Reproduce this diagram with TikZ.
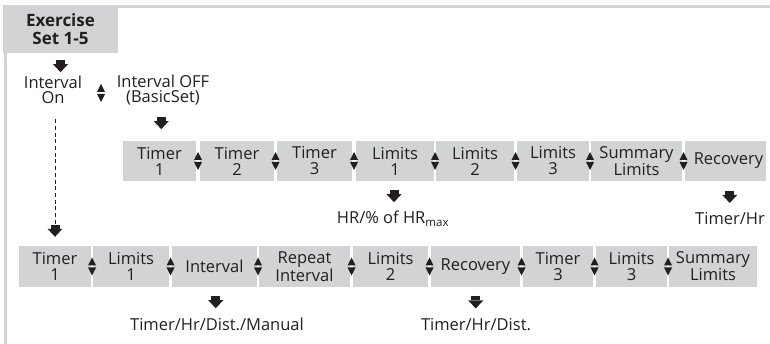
\documentclass[tikz,border=0pt]{standalone}
\usepackage{fontspec}
\setmainfont{Open Sans}
\usetikzlibrary{calc}
\definecolor{boxgray}{HTML}{D1D3D4}
\definecolor{framegray}{HTML}{D3D3D3}
\definecolor{ink}{HTML}{231F20}
\tikzset{
  stepbox/.style={fill=boxgray, text=ink, inner sep=0pt, align=center,
    font=\fontsize{16.5}{16}\selectfont, minimum height=40},
  hdrbox/.style={fill=boxgray, text=ink, inner sep=0pt, align=center,
    font=\fontsize{17}{18}\selectfont\bfseries, minimum width=115, minimum height=48},
  plain/.style={text=ink, inner sep=0pt, align=center, font=\fontsize{16.5}{15.5}\selectfont},
  dashline/.style={ink, line width=1pt, dash pattern=on 4pt off 2.7pt},
  updown/.pic={
    \fill[ink] (-4,-1) -- (4,-1) -- (0,-9) -- cycle;
    \fill[ink] (-4,1) -- (4,1) -- (0,9) -- cycle;
  },
  downarrow/.pic={
    \fill[ink] (-4.5,-6) rectangle (4.5,-2);
    \fill[ink] (-7.5,-2) -- (7.5,-2) -- (0,6) -- cycle;
  }
}
\begin{document}
\begin{tikzpicture}[x=1pt,y=-1pt]
\useasboundingbox (0,0) rectangle (770,344);
% frame
\draw[framegray, line width=2.5pt] (770,6.5) -- (5.5,6.5) -- (5.5,344);
% header
\node[hdrbox] (hdr) at (60.5,29) {Exercise\\Set 1-5};
\pic at ($(hdr.south)+(0,13)$) {downarrow};
% interval choice
\node[plain] (inton) at (53,90) {Interval\\On};
\node[plain] (intoff) at (163,90) {Interval OFF\\(BasicSet)};
\pic at (101,93) {updown};
% row 1
\node[stepbox, minimum width=73] (a1) at (159.5,161) {Timer\\1};
\node[stepbox, minimum width=74] (a2) at (237,161) {Timer\\2};
\node[stepbox, minimum width=75] (a3) at (314.5,161) {Timer\\3};
\node[stepbox, minimum width=78] (a4) at (395,161) {Limits\\1};
\node[stepbox, minimum width=78] (a5) at (475,161) {Limits\\2};
\node[stepbox, minimum width=72] (a6) at (553,161) {Limits\\3};
\node[stepbox, minimum width=91] (a7) at (636.5,161) {Summary\\Limits};
\node[stepbox, minimum width=81] (a8) at (725.5,161) {\hspace*{6pt}Recovery};
\foreach \l/\r in {a1/a2,a2/a3,a3/a4,a4/a5,a5/a6,a6/a7,a7/a8}
  \pic at ($(\l.east)!0.5!(\r.west)$) {updown};
\pic at ($(intoff.south)!0.5!(a1.north)$) {downarrow};
% labels row 1
\node[plain, anchor=base] (hr) at (393,224) {HR/\% of HR\textsubscript{max}};
\node[plain, anchor=base] (rec1) at (730,225) {Timer/Hr};
\pic at ($(a4.south)!0.5!(hr.north)$) {downarrow};
\pic at ($(a8.south)!0.5!(rec1.north)+(2,0)$) {downarrow};
% row 2
\node[stepbox, minimum width=72, minimum height=41] (b1) at (55,266.5) {Timer\\1};
\node[stepbox, minimum width=76, minimum height=41] (b2) at (131,266.5) {Limits\\1};
\node[stepbox, minimum width=85, minimum height=41] (b3) at (214.5,266.5) {Interval};
\node[stepbox, minimum width=91, minimum height=41] (b4) at (304.5,266.5) {Repeat\\Interval};
\node[stepbox, minimum width=75, minimum height=41] (b5) at (390.5,266.5) {Limits\\2};
\node[stepbox, minimum width=89, minimum height=41] (b6) at (475.5,266.5) {Recovery};
\node[stepbox, minimum width=70, minimum height=41] (b7) at (558,266.5) {Timer\\3};
\node[stepbox, minimum width=71, minimum height=41] (b8) at (631.5,266.5) {Limits\\3};
\node[stepbox, minimum width=88, minimum height=41] (b9) at (713,266.5) {Summary\\Limits};
\foreach \l/\r in {b1/b2,b2/b3,b3/b4,b4/b5,b5/b6,b6/b7,b7/b8,b8/b9}
  \pic at ($(\l.east)!0.5!(\r.west)$) {updown};
% dashed connector
\coordinate (dend) at ($(b1.north)+(0,-21)$);
\draw[dashline] ([yshift=-15pt]inton.south -| b1.north) -- (dend);
\pic at ($(dend)+(0,6)$) {downarrow};
% labels row 2
\node[plain, anchor=base] (ilab) at (217,330) {Timer/Hr/Dist./Manual};
\node[plain, anchor=base] (rlab) at (476,330) {Timer/Hr/Dist.};
\pic at ($(b3.south)!0.5!(ilab.north)$) {downarrow};
\pic at ($(b6.south)!0.5!(rlab.north)$) {downarrow};
\end{tikzpicture}
\end{document}
